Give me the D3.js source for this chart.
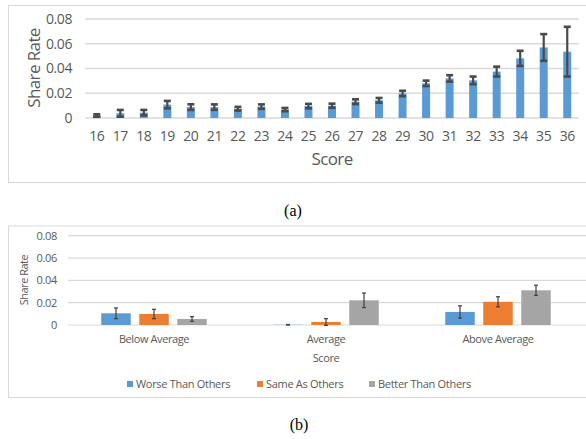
<!DOCTYPE html>
<html><head><meta charset="utf-8">
<script src="https://cdn.jsdelivr.net/npm/d3@7"></script>
<style>body{margin:0;background:#fff}svg{display:block}.cap{font-family:"Liberation Serif","Times New Roman",serif;font-size:16px}</style>
</head><body>
<svg id="c" width="586" height="439"></svg>
<script>
// ---- data: chart (a)
const scores = ["16","17","18","19","20","21","22","23","24","25","26","27","28","29","30","31","32","33","34","35","36"];
const scoreRate = [0.002,0.0038,0.0043,0.0108,0.0088,0.0088,0.0075,0.0092,0.0068,0.0096,0.0099,0.0132,0.0143,0.0198,0.028,0.032,0.0304,0.0375,0.0482,0.057,0.0536];
const scoreErr  = [0.001,0.0027,0.0022,0.003,0.0023,0.0022,0.0015,0.0018,0.0013,0.0018,0.0017,0.0019,0.0019,0.0022,0.0022,0.0026,0.0031,0.004,0.0061,0.0108,0.0201];
const yTicks = [0,0.02,0.04,0.06,0.08];
// ---- data: chart (b)
const groups = ["Below Average","Average Score","Above Average"];
const series = ["Worse Than Others","Same As Others","Better Than Others"];
const worseVals  = [0.0105,0.0002,0.0117];
const sameVals   = [0.0099,0.0027,0.0208];
const betterVals = [0.0054,0.0221,0.0311];
const worseErr   = [0.0048,0.0002,0.0055];
const sameErr    = [0.0042,0.003,0.0045];
const betterErr  = [0.0021,0.0065,0.0045];
const colors = ["#5B9BD5","#ED7D31","#A5A5A5"];

const svg = d3.select("#c");
const txt = "#595959", grid = "#d9d9d9", font = "'Open Sans', sans-serif";

// ---------- chart (a)
svg.append("rect").attr("x",8.5).attr("y",5.5).attr("width",600).attr("height",177)
  .attr("fill","#fff").attr("stroke",grid);
const xa = d3.scaleBand().domain(scores).range([85,579]).paddingInner(0.66).paddingOuter(0.33);
const ya = d3.scaleLinear().domain([0,0.08]).range([118,19]);
const ga = svg.append("g");
ga.selectAll("line.g").data(yTicks).join("line")
  .attr("x1",85).attr("x2",579).attr("y1",d=>ya(d)).attr("y2",d=>ya(d))
  .attr("stroke",grid).attr("stroke-width",1.3);
const aYAxis = d3.axisLeft(ya).tickValues(yTicks).tickFormat(d=>d===0?"0":d3.format(".2f")(d)).tickSize(0).tickPadding(13);
ga.append("g").attr("transform","translate(85,0)").call(aYAxis)
  .call(g=>g.select(".domain").remove())
  .selectAll("text").attr("fill",txt).style("font-family",font).style("font-size","14px").style("letter-spacing","-0.4px");
const aXAxis = d3.axisBottom(xa).tickSize(0).tickPadding(13);
ga.append("g").attr("transform","translate(0,118)").call(aXAxis)
  .call(g=>g.select(".domain").remove())
  .selectAll("text").attr("fill",txt).style("font-family",font).style("font-size","14px").style("letter-spacing","-0.4px");
ga.selectAll("rect.bar").data(scores).join("rect")
  .attr("x",d=>xa(d)).attr("width",xa.bandwidth())
  .attr("y",(d,i)=>ya(scoreRate[i])).attr("height",(d,i)=>ya(0)-ya(scoreRate[i]))
  .attr("fill",colors[0]);
const eb = ga.selectAll("g.eb").data(scores).join("g");
eb.append("line").attr("x1",d=>xa(d)+xa.bandwidth()/2).attr("x2",d=>xa(d)+xa.bandwidth()/2)
  .attr("y1",(d,i)=>ya(scoreRate[i]+scoreErr[i])).attr("y2",(d,i)=>ya(scoreRate[i]-scoreErr[i]))
  .attr("stroke","#4a4a4a").attr("stroke-width",2.2);
[1,-1].forEach(s=>{
  eb.append("line").attr("x1",d=>xa(d)+xa.bandwidth()/2-3.5).attr("x2",d=>xa(d)+xa.bandwidth()/2+3.5)
    .attr("y1",(d,i)=>ya(scoreRate[i]+s*scoreErr[i])).attr("y2",(d,i)=>ya(scoreRate[i]+s*scoreErr[i]))
    .attr("stroke","#4a4a4a").attr("stroke-width",2.6);
});
svg.append("text").attr("transform","translate(40,68) rotate(-90)").attr("text-anchor","middle")
  .attr("fill",txt).style("font-family",font).style("font-size","17px").style("letter-spacing","-0.6px").text("Share Rate");
svg.append("text").attr("x",332).attr("y",165).attr("text-anchor","middle")
  .attr("fill",txt).style("font-family",font).style("font-size","17px").style("letter-spacing","-0.6px").text("Score");
svg.append("text").attr("class","cap").attr("x",293).attr("y",216).attr("text-anchor","middle").text("(a)");

// ---------- chart (b)
svg.append("rect").attr("x",8.5).attr("y",226).attr("width",600).attr("height",171.5)
  .attr("fill","#fff").attr("stroke",grid);
const xb = d3.scaleBand().domain(groups).range([68,584]);
const xs = d3.scaleBand().domain(series).range([0,105.5]).paddingInner(0.224);
const off = (xb.bandwidth()-105.5)/2;
const yb = d3.scaleLinear().domain([0,0.08]).range([325,235.7]);
const gb = svg.append("g");
gb.selectAll("line.g").data(yTicks).join("line")
  .attr("x1",68).attr("x2",586).attr("y1",d=>yb(d)).attr("y2",d=>yb(d))
  .attr("stroke",grid).attr("stroke-width",1.2);
const bYAxis = d3.axisLeft(yb).tickValues(yTicks).tickFormat(d=>d===0?"0":d3.format(".2f")(d)).tickSize(0).tickPadding(11);
gb.append("g").attr("transform","translate(68,0)").call(bYAxis)
  .call(g=>g.select(".domain").remove())
  .selectAll("text").attr("fill",txt).style("font-family",font).style("font-size","11px").style("letter-spacing","-0.3px");
const bXAxis = d3.axisBottom(xb).tickSize(0).tickPadding(10).tickFormat(d=>d==="Average Score"?"Average":d);
gb.append("g").attr("transform","translate(0,325)").call(bXAxis)
  .call(g=>g.select(".domain").remove())
  .selectAll("text").attr("fill",txt).style("font-family",font).style("font-size","11px").style("letter-spacing","-0.4px");
const vals = [worseVals,sameVals,betterVals], errs = [worseErr,sameErr,betterErr];
series.forEach((s,si)=>{
  const cx = g=>xb(g)+off+xs(s)+xs.bandwidth()/2;
  gb.selectAll("rect.s"+si).data(groups).join("rect")
    .attr("x",g=>xb(g)+off+xs(s)).attr("width",xs.bandwidth())
    .attr("y",(g,i)=>yb(vals[si][i])).attr("height",(g,i)=>yb(0)-yb(vals[si][i]))
    .attr("fill",colors[si]);
  const e = gb.selectAll("g.e"+si).data(groups).join("g");
  e.append("line").attr("x1",cx).attr("x2",cx)
    .attr("y1",(g,i)=>yb(vals[si][i]+errs[si][i])).attr("y2",(g,i)=>yb(vals[si][i]-errs[si][i]))
    .attr("stroke","#404040").attr("stroke-width",1.2);
  [1,-1].forEach(k=>{
    e.append("line").attr("x1",g=>cx(g)-2).attr("x2",g=>cx(g)+2)
      .attr("y1",(g,i)=>yb(vals[si][i]+k*errs[si][i])).attr("y2",(g,i)=>yb(vals[si][i]+k*errs[si][i]))
      .attr("stroke","#404040").attr("stroke-width",1.2);
  });
});
svg.append("text").attr("transform","translate(28,280) rotate(-90)").attr("text-anchor","middle")
  .attr("fill",txt).style("font-family",font).style("font-size","11px").style("letter-spacing","-0.5px").text("Share Rate");
svg.append("text").attr("x",xb("Average Score")+xb.bandwidth()/2).attr("y",362).attr("text-anchor","middle")
  .attr("fill",txt).style("font-family",font).style("font-size","11px").style("letter-spacing","-0.4px").text("Score");
const legX = [127,257,369];
const leg = svg.selectAll("g.leg").data(series).join("g").attr("transform",(d,i)=>`translate(${legX[i]},384)`);
leg.append("rect").attr("x",0).attr("y",-3).attr("width",6).attr("height",6).attr("fill",(d,i)=>colors[i]);
leg.append("text").attr("x",9).attr("y",4).attr("fill",txt).style("font-family",font).style("font-size","11px").style("letter-spacing","-0.3px").text(d=>d);
svg.append("text").attr("class","cap").attr("x",299).attr("y",430).attr("text-anchor","middle").text("(b)");
</script>
</body></html>
